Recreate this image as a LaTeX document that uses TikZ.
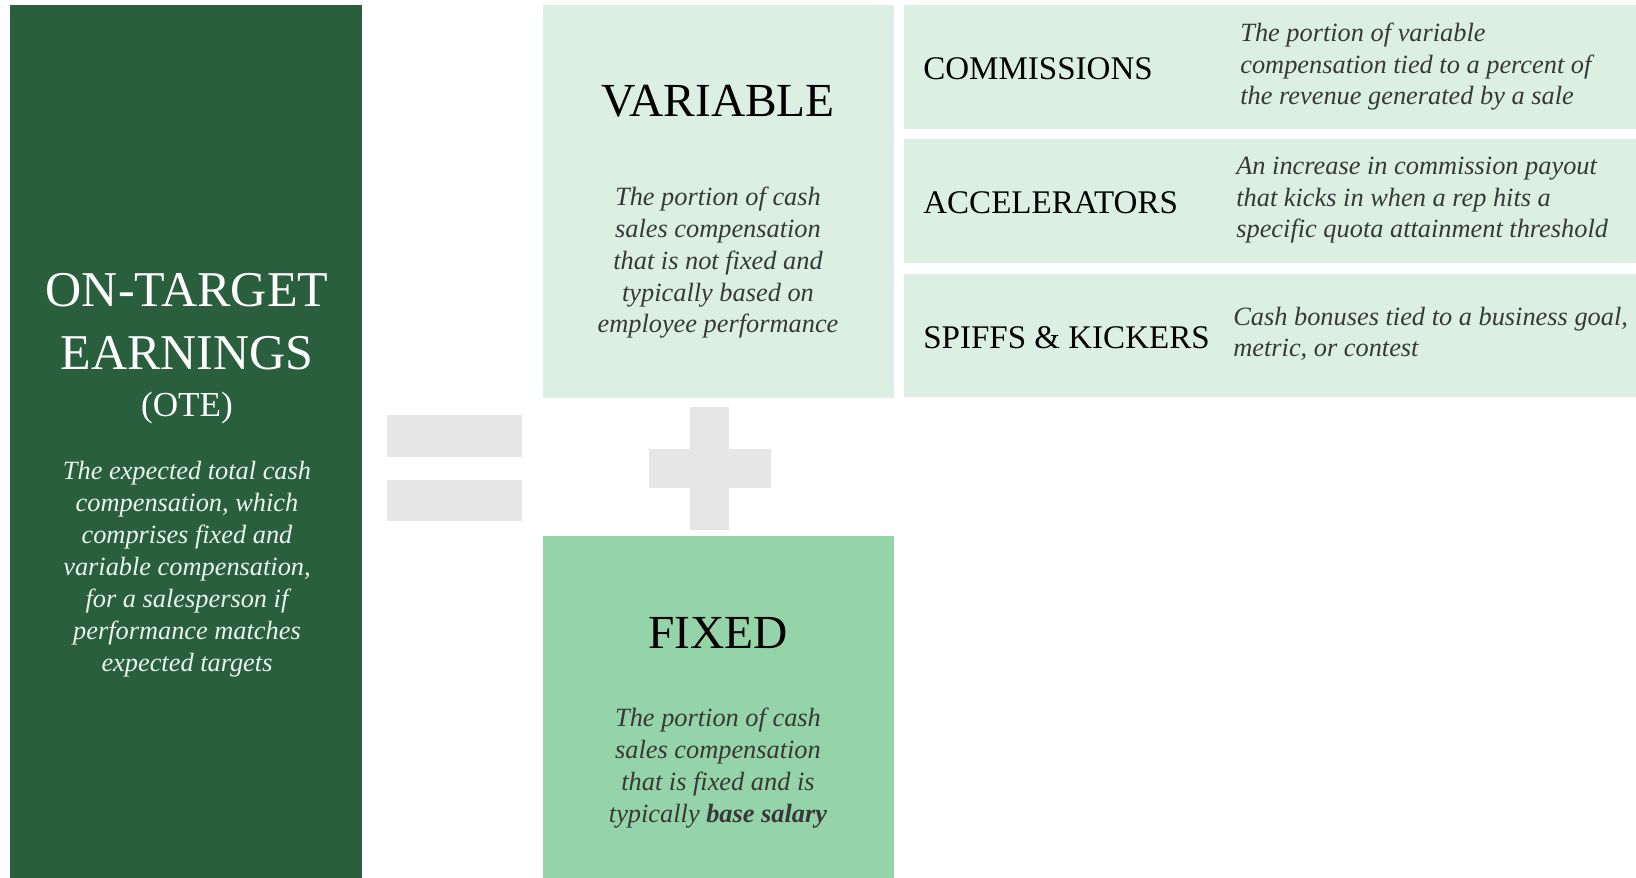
\documentclass[tikz,border=0pt]{standalone}
\usepackage{fontspec}
\setmainfont{Liberation Serif}
\usepackage{xcolor}
\definecolor{oteGreen}{HTML}{295F3C}
\definecolor{varMint}{HTML}{DBF0E2}
\definecolor{fixGreen}{HTML}{95D3A8}
\definecolor{signGray}{HTML}{E6E6E6}
\definecolor{descGray}{HTML}{383838}
\definecolor{descLight}{HTML}{EAF5ED}
\usetikzlibrary{calc}
\tikzset{
    panel/.style={inner sep=0pt, outer sep=0pt, draw=none},
    signbar/.style={fill=signGray, inner sep=0pt, outer sep=0pt},
    bigtitle/.style={font=\fontsize{27}{33}\selectfont, anchor=base, inner sep=0pt},
    rowtitle/.style={font=\fontsize{18.8}{22}\selectfont, anchor=base west, inner sep=0pt},
    desc/.style={font=\fontsize{15}{18.2}\selectfont\itshape, text=descGray, inner sep=0pt}
}

\begin{document}
\begin{tikzpicture}[x=0.02cm, y=-0.02cm]
  % page size (pixels of the original)
  \useasboundingbox (0,0) rectangle (1636,878);

  % panels
  \node[panel, fill=oteGreen, minimum width=7.04cm, minimum height=17.46cm] (ote) at (186,441.5) {};
  \node[panel, fill=varMint, minimum width=7.02cm, minimum height=7.86cm] (var) at (718.5,201.5) {};
  \node[panel, fill=fixGreen, minimum width=7.02cm, minimum height=6.84cm] (fix) at (718.5,707) {};

  % rows of the variable part
  \foreach \name/\yc in {comm/67, accel/201, spiff/335.5}{
    \node[panel, fill=varMint, minimum width=14.64cm, minimum height=2.48cm] (\name) at (1270,\yc) {};
  }

  % equals and plus
  \node[signbar, minimum width=2.7cm, minimum height=0.84cm] (eqTop) at (454.5,436) {};
  \node[signbar, minimum width=2.7cm, minimum height=0.82cm] (eqBot) at (454.5,500.5) {};
  \node[signbar, minimum width=2.44cm, minimum height=0.78cm] (plusH) at (710,468.5) {};
  \node[signbar, minimum width=0.78cm, minimum height=2.46cm] (plusV) at (709.5,468.5) {};

  % on-target earnings (base = last line)
  \node[bigtitle, text=white, align=center, font=\fontsize{28.5}{36}\selectfont] (oteTitle) at (187,370) {ON-TARGET\\EARNINGS};
  \node[bigtitle, text=white, font=\fontsize{20}{24}\selectfont] (oteAbbr) at (187,417) {(OTE)};
  \node[desc, text=descLight, align=center, anchor=base] (oteDesc) at (187,671)
    {The expected total cash\\compensation, which\\comprises fixed and\\variable compensation,\\for a salesperson if\\performance matches\\expected targets};

  % variable
  \node[bigtitle] (varTitle) at (718,117) {VARIABLE};
  \node[desc, align=center, anchor=base] (varDesc) at (718,333)
    {The portion of cash\\sales compensation\\that is not fixed and\\typically based on\\employee performance};

  % fixed
  \node[bigtitle] (fixTitle) at (718,648) {FIXED};
  \node[desc, align=center, anchor=base] (fixDesc) at (718,822)
    {The portion of cash\\sales compensation\\that is fixed and is\\typically \textbf{base salary}};

  % row labels
  \node[rowtitle] (commTitle) at (923,80) {COMMISSIONS};
  \node[rowtitle] (accelTitle) at (923,214) {ACCELERATORS};
  \node[rowtitle] (spiffTitle) at (923,348.5) {SPIFFS \& KICKERS};

  % row texts
  \node[desc, align=left, anchor=base west] (commDesc) at (1240,105)
    {The portion of variable\\compensation tied to a percent of\\the revenue generated by a sale};
  \node[desc, align=left, anchor=base west] (accelDesc) at (1236,238)
    {An increase in commission payout\\that kicks in when a rep hits a\\specific quota attainment threshold};
  \node[desc, align=left, anchor=base west] (spiffDesc) at (1233,357)
    {Cash bonuses tied to a business goal,\\metric, or contest};
\end{tikzpicture}
\end{document}
